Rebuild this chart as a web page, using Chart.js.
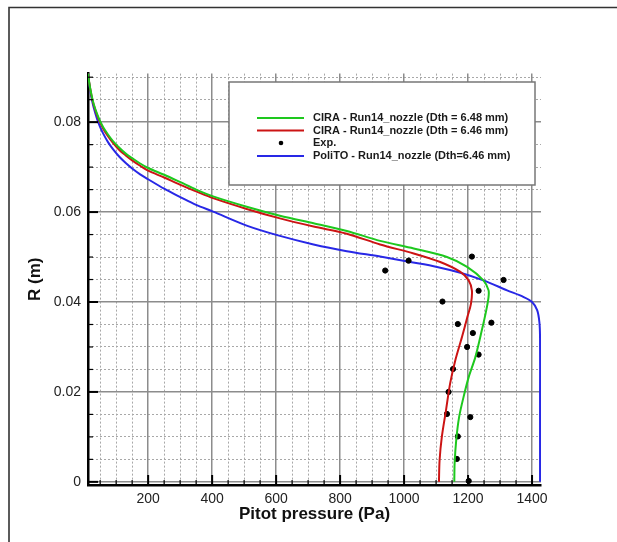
<!DOCTYPE html>
<html><head><meta charset="utf-8">
<script src="https://cdn.jsdelivr.net/npm/chart.js@4"></script>
<style>html,body{margin:0;padding:0;background:#fff;}#wrap{width:617px;height:542px;position:relative;}</style>
</head><body><div id="wrap"><canvas id="c" width="617" height="542"></canvas></div>
<script>
// ---- data ----
const seriesNames = [
  'CIRA - Run14_nozzle (Dth = 6.48 mm)',
  'CIRA - Run14_nozzle (Dth = 6.46 mm)',
  'Exp.',
  'PoliTO - Run14_nozzle (Dth=6.46 mm)'
];
const ciraGreen = [[12,0.0909],[15,0.0892],[20,0.0871],[25,0.0854],[30,0.0840],[40,0.0819],[50,0.0802],[60,0.0788],[75,0.0772],[90,0.0758],[110,0.0743],[130,0.0730],[150,0.0720],[175,0.0708],[200,0.0698],[250,0.0683],[299,0.0667],[350,0.0650],[403,0.0635],[508,0.0612],[612,0.0592],[717,0.0575],[821,0.0558],[925,0.0536],[1030,0.0519],[1134,0.0500],[1197,0.0478],[1248,0.0448],[1264,0.0426],[1264,0.0411],[1257,0.0382],[1243,0.0337],[1223,0.0278],[1202,0.0233],[1186,0.0189],[1172,0.0144],[1163,0.0093],[1158,0.0041],[1157,0]];
const ciraRed = [[12,0.0909],[15,0.0892],[20,0.0870],[25,0.0852],[30,0.0838],[40,0.0816],[50,0.0799],[60,0.0785],[75,0.0768],[90,0.0754],[110,0.0738],[130,0.0726],[150,0.0715],[175,0.0703],[200,0.0692],[250,0.0677],[299,0.0661],[350,0.0646],[403,0.0631],[508,0.0607],[612,0.0586],[717,0.0568],[821,0.0552],[925,0.0528],[1030,0.0508],[1113,0.0489],[1176,0.0467],[1202,0.0448],[1212,0.0426],[1209,0.0396],[1198,0.0367],[1181,0.0322],[1160,0.0270],[1144,0.0219],[1131,0.0159],[1118,0.0100],[1111,0.0048],[1109,0]];
const expPoints = [[1212,0.0501],[941,0.0470],[1014,0.0492],[1311,0.0449],[1233,0.0425],[1120,0.0401],[1273,0.0354],[1168,0.0351],[1215,0.0331],[1197,0.0300],[1233,0.0283],[1153,0.0251],[1139,0.0200],[1134,0.0151],[1207,0.0144],[1168,0.0101],[1165,0.0051],[1202,0.0002]];
const polito = [[12,0.0909],[15,0.0890],[20,0.0866],[25,0.0847],[30,0.0832],[40,0.0808],[50,0.0789],[60,0.0774],[75,0.0755],[90,0.0740],[110,0.0723],[130,0.0709],[150,0.0697],[175,0.0684],[200,0.0673],[250,0.0652],[299,0.0634],[350,0.0616],[403,0.0601],[508,0.0570],[612,0.0547],[717,0.0528],[821,0.0513],[925,0.0501],[1019,0.0489],[1103,0.0478],[1176,0.0465],[1248,0.0448],[1322,0.0426],[1374,0.0411],[1400,0.0400],[1416,0.0382],[1423,0.0355],[1425,0.0320],[1425,0.0200],[1425,0]];
const xMajorTicks = [200,400,600,800,1000,1200,1400];
const xTickLabels = ['200','400','600','800','1000','1200','1400'];
const yMajorTicks = [0,0.02,0.04,0.06,0.08];
const yTickLabels = ['0','0.02','0.04','0.06','0.08'];
const xMinorTicks = [50,100,150,250,300,350,450,500,550,650,700,750,850,900,950,1050,1100,1150,1250,1300,1350];
const yMinorTicks = [0.005,0.01,0.015,0.025,0.03,0.035,0.045,0.05,0.055,0.065,0.07,0.075,0.085,0.09];
const xRange = [12, 1428];
const yRange = [-0.0007, 0.0908];

// ---- styles ----
const colors = ['#1ec81e', '#cc1414', '#000000', '#2828e6'];
const toXY = a => a.map(p => ({x: p[0], y: p[1]}));

const frame = {
  id: 'frame',
  beforeDraw(chart) {
    const ctx = chart.ctx;
    ctx.save();
    ctx.strokeStyle = '#333';
    ctx.lineWidth = 1.6;
    ctx.beginPath();
    ctx.moveTo(9, 542); ctx.lineTo(9, 7.5); ctx.lineTo(617, 7.5);
    ctx.stroke();
    ctx.restore();
  }
};

const inwardTicks = {
  id: 'inwardTicks',
  afterDatasetsDraw(chart) {
    const {ctx, chartArea: a, scales: {x, y}} = chart;
    ctx.save();
    ctx.strokeStyle = '#000';
    const tx = (v, len, w) => { const px = x.getPixelForValue(v); ctx.lineWidth = w; ctx.beginPath(); ctx.moveTo(px, a.bottom); ctx.lineTo(px, a.bottom - len); ctx.stroke(); };
    const ty = (v, len, w) => { const py = y.getPixelForValue(v); ctx.lineWidth = w; ctx.beginPath(); ctx.moveTo(a.left, py); ctx.lineTo(a.left + len, py); ctx.stroke(); };
    xMajorTicks.forEach(v => tx(v, 10, 2));
    xMinorTicks.forEach(v => tx(v, 5, 1.2));
    yMajorTicks.forEach(v => ty(v, 10, 2));
    yMinorTicks.forEach(v => ty(v, 5, 1.2));
    ctx.restore();
  }
};

const boxLegend = {
  id: 'boxLegend',
  afterDraw(chart) {
    const ctx = chart.ctx;
    ctx.save();
    ctx.fillStyle = '#fff';
    ctx.fillRect(229, 82, 306, 103);
    ctx.strokeStyle = '#777';
    ctx.lineWidth = 1.5;
    ctx.strokeRect(229, 82, 306, 103);
    ctx.font = 'bold 11px Arial, "Liberation Sans", sans-serif';
    ctx.textBaseline = 'middle';
    const rows = [118, 130.5, 143, 156];
    seriesNames.forEach((name, i) => {
      const yy = rows[i];
      if (name === 'Exp.') {
        ctx.fillStyle = '#000';
        ctx.beginPath(); ctx.arc(281, yy, 2.3, 0, Math.PI * 2); ctx.fill();
      } else {
        ctx.strokeStyle = colors[i];
        ctx.lineWidth = 2;
        ctx.beginPath(); ctx.moveTo(257, yy); ctx.lineTo(304, yy); ctx.stroke();
      }
      ctx.fillStyle = '#1a1a1a';
      ctx.fillText(name, 313, yy);
    });
    ctx.restore();
  }
};

const setTicks = list => s => { s.ticks = list.map(v => ({value: v})); };

new Chart(document.getElementById('c'), {
  type: 'scatter',
  data: {
    datasets: [
      {label: seriesNames[0], data: toXY(ciraGreen), showLine: true, borderColor: colors[0], borderWidth: 2, pointRadius: 0, tension: 0.3},
      {label: seriesNames[1], data: toXY(ciraRed), showLine: true, borderColor: colors[1], borderWidth: 2, pointRadius: 0, tension: 0.3},
      {label: seriesNames[2], data: toXY(expPoints), showLine: false, backgroundColor: '#000', borderColor: '#000', pointRadius: 2.6, pointStyle: 'circle'},
      {label: seriesNames[3], data: toXY(polito), showLine: true, borderColor: colors[3], borderWidth: 2, pointRadius: 0, tension: 0.3}
    ]
  },
  options: {
    responsive: false,
    animation: false,
    devicePixelRatio: 1,
    layout: {padding: {left: 0, right: 76, top: 73.6, bottom: 0}},
    plugins: {legend: {display: false}, tooltip: {enabled: false}},
    scales: {
      xm: {
        type: 'linear', position: 'bottom', min: xRange[0], max: xRange[1],
        afterBuildTicks: setTicks(xMinorTicks),
        grid: {color: '#a8a8a8', lineWidth: 1, drawTicks: false},
        border: {display: false, dash: [2, 2]},
        ticks: {display: false},
        afterFit: s => { s.height = 0; }
      },
      ym: {
        type: 'linear', position: 'left', min: yRange[0], max: yRange[1],
        afterBuildTicks: setTicks(yMinorTicks),
        grid: {color: '#a8a8a8', lineWidth: 1, drawTicks: false},
        border: {display: false, dash: [2, 2]},
        ticks: {display: false},
        afterFit: s => { s.width = 0; }
      },
      x: {
        type: 'linear', position: 'bottom', min: xRange[0], max: xRange[1],
        afterBuildTicks: setTicks(xMajorTicks),
        grid: {color: '#8c8c8c', lineWidth: 1.5, drawTicks: false},
        border: {display: true, color: '#000', width: 2.5},
        ticks: {font: {family: 'Arial', size: 14}, color: '#222', padding: 6,
                callback: (v, i) => xTickLabels[i]},
        title: {display: true, text: 'Pitot pressure (Pa)', color: '#111',
                font: {family: 'Arial', size: 17, weight: 'bold'}, padding: {top: 0, bottom: 17}},
        afterFit: s => { s.height = 57; }
      },
      y: {
        type: 'linear', position: 'left', min: yRange[0], max: yRange[1],
        afterBuildTicks: setTicks(yMajorTicks),
        grid: {color: '#8c8c8c', lineWidth: 1.5, drawTicks: false},
        border: {display: true, color: '#000', width: 2.5},
        ticks: {font: {family: 'Arial', size: 14}, color: '#222', padding: 7,
                callback: (v, i) => yTickLabels[i]},
        title: {display: true, text: 'R (m)', color: '#111',
                font: {family: 'Arial', size: 17, weight: 'bold'}, padding: {top: 25, bottom: 0}},
        afterFit: s => { s.width = 88; }
      }
    }
  },
  plugins: [frame, inwardTicks, boxLegend]
});
</script>
</body></html>
